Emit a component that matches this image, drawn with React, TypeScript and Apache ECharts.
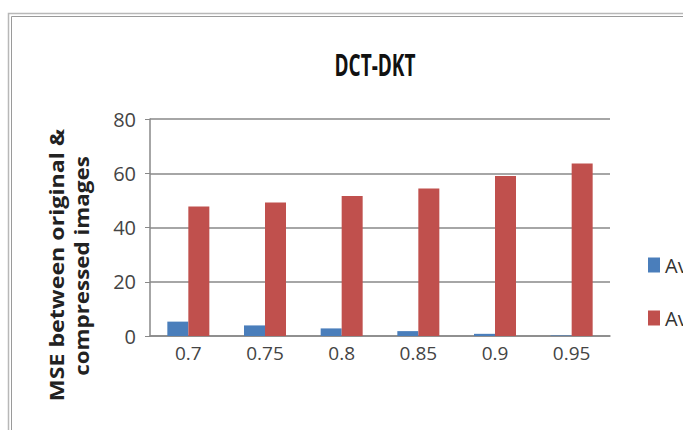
import React, { useEffect, useRef } from "react";
import * as echarts from "echarts";

const categories = ["0.7", "0.75", "0.8", "0.85", "0.9", "0.95"];
const blueValues = [5.3, 3.9, 2.8, 1.8, 0.8, 0.2];
const redValues = [47.7, 49.2, 51.6, 54.4, 59.0, 63.6];
const seriesNames = ["Average compression ratio", "Average MSE"];
const titleText = "DCT-DKT";
const axisTitle = ["MSE between original &", "compressed images"];

export default function App() {
  const ref = useRef<HTMLDivElement>(null);
  useEffect(() => {
    const chart = echarts.init(ref.current!, null, { renderer: "svg" });
    chart.setOption({
      animation: false,
      backgroundColor: "#ffffff",
      textStyle: { fontFamily: "Open Sans" },
      graphic: [
        { type: "rect", shape: { x: 8.5, y: 13.5, width: 700, height: 430 }, style: { fill: "none", stroke: "#b8b8b8", lineWidth: 1.5 } },
        { type: "rect", shape: { x: 11.5, y: 16.5, width: 700, height: 430 }, style: { fill: "none", stroke: "#9a9a9a", lineWidth: 1 } },
        {
          type: "text",
          x: 375,
          y: 64,
          scaleY: 1.6,
          style: { text: titleText, font: "bold 19px 'Open Sans'", fill: "#111", align: "center", verticalAlign: "middle" },
        },
        {
          type: "text",
          x: 56,
          y: 265,
          rotation: Math.PI / 2,
          scaleX: 1.16,
          style: { text: axisTitle[0], font: "bold 20px 'Open Sans'", fill: "#222", align: "center", verticalAlign: "middle" },
        },
        {
          type: "text",
          x: 81,
          y: 266,
          rotation: Math.PI / 2,
          scaleX: 1.12,
          style: { text: axisTitle[1], font: "bold 20px 'Open Sans'", fill: "#222", align: "center", verticalAlign: "middle" },
        },
      ],
      legend: {
        orient: "vertical",
        left: 643,
        top: 250,
        itemWidth: 12,
        itemHeight: 15,
        itemGap: 33,
        icon: "rect",
        textStyle: { fontSize: 20, color: "#333", fontFamily: "Open Sans", lineHeight: 20 },
        data: seriesNames,
      },
      grid: { left: 150, right: 73, top: 119, bottom: 94, containLabel: false },
      xAxis: {
        type: "category",
        data: categories,
        axisLine: { lineStyle: { color: "#888", width: 1.5 } },
        axisTick: { show: false },
        axisLabel: { fontSize: 19, color: "#444", margin: 7, fontFamily: "Open Sans" },
      },
      yAxis: {
        type: "value",
        min: 0,
        max: 80,
        interval: 20,
        axisLine: { show: true, lineStyle: { color: "#888", width: 1.5 } },
        axisTick: { show: true, length: 5, lineStyle: { color: "#888" } },
        axisLabel: { fontSize: 20, color: "#444", margin: 14, fontFamily: "Open Sans" },
        splitLine: { lineStyle: { color: "#888", width: 1.5 } },
      },
      series: [
        {
          name: seriesNames[0],
          type: "bar",
          data: blueValues,
          barWidth: 21,
          barGap: "0%",
          itemStyle: { color: "#4a7ebb" },
        },
        {
          name: seriesNames[1],
          type: "bar",
          data: redValues,
          barWidth: 21,
          itemStyle: { color: "#c0504d" },
        },
      ],
    });
    return () => chart.dispose();
  }, []);
  return <div ref={ref} style={{ position: "fixed", left: 0, top: 0, width: 683, height: 430 }} />;
}
